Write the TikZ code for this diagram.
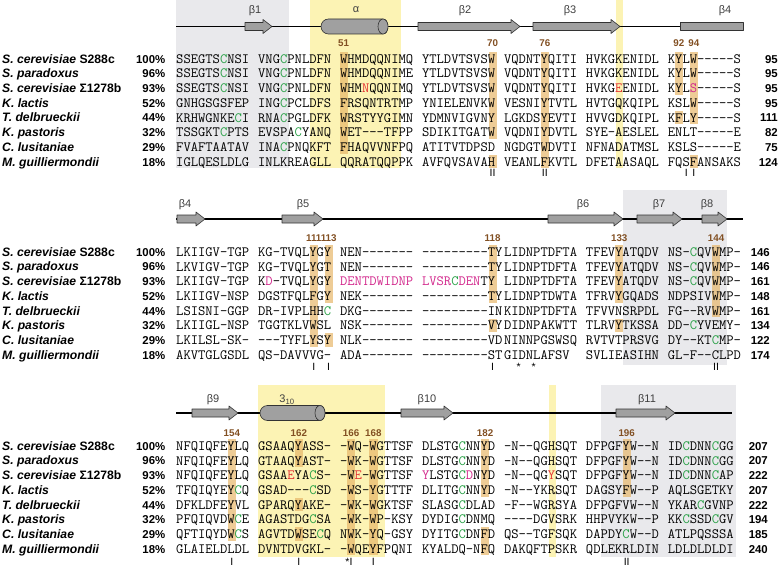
\documentclass[tikz,border=0pt]{standalone}
\usepackage{fontspec}
\setmainfont{Liberation Sans}
\setsansfont{Liberation Sans}
\usepackage{tikz}
\usetikzlibrary{calc}

\definecolor{bggray}{RGB}{233,233,236}
\definecolor{bgyellow}{RGB}{252,243,180}
\definecolor{hltan}{RGB}{231,182,105}
\definecolor{numbrown}{RGB}{130,80,35}
\definecolor{cysgreen}{RGB}{40,160,70}
\definecolor{mutred}{RGB}{228,50,50}
\definecolor{insmag}{RGB}{210,40,140}
\definecolor{ssgray}{RGB}{160,160,160}

% coloured residues
\newcommand{\gc}{\textcolor{cysgreen}{C}}
\newcommand{\rd}[1]{\textcolor{mutred}{#1}}
\newcommand{\mg}[1]{\textcolor{insmag}{#1}}

% left edge of residue column #1 (0..69) in one alignment line
\newcommand{\colx}[1]{(176+(#1+int(#1/10))*7.45)}

% strand arrow: x start, x tip, y
\newcommand{\strand}[3]{%
  \draw[sstruct] (#1,#3-4) -- (#2-9,#3-4) -- (#2-9,#3-7) -- (#2,#3)
    -- (#2-9,#3+7) -- (#2-9,#3+4) -- (#1,#3+4) -- cycle;}
% helix cylinder: x start, x of end cap, y
\newcommand{\helix}[3]{%
  \draw[sstruct] (#2,#3-7.5) -- (#1+7.5,#3-7.5) arc (270:90:7.5)
    -- (#2,#3+7.5) arc (90:-90:5 and 7.5) -- cycle;
  \draw[sstruct] (#2,#3) ellipse (5 and 7.5);}

\begin{document}
\begin{tikzpicture}[x=1pt, y=-1pt, font=\sffamily,
    seq/.style={anchor=base west, inner sep=0pt, font=\fontsize{14.19}{16}\selectfont\ttfamily},
    species/.style={anchor=base west, inner sep=0pt, font=\fontsize{12.2}{14}\selectfont\bfseries},
    pct/.style={anchor=base east, inner sep=0pt, font=\fontsize{11.4}{13}\selectfont\bfseries},
    resnum/.style={anchor=base, inner sep=0pt, text=numbrown, font=\fontsize{9.8}{11}\selectfont\bfseries},
    sslabel/.style={inner sep=0pt, text=black!75, font=\fontsize{11}{13}\selectfont},
    sitemark/.style={anchor=base, inner sep=0pt, font=\fontsize{10.5}{12}\selectfont},
    hlcell/.style={fill=hltan, fill opacity=0.7},
    backbone/.style={line width=1.2pt},
    sstruct/.style={fill=ssgray, draw=black!80, line width=0.6pt, line join=round}]

    \useasboundingbox (0,0) rectangle (779,567);

    % 1. Shaded regions
    \fill[bggray] (176,0) rectangle (289,168);
    \fill[bgyellow] (310,0) rectangle (401,168);
    \fill[bgyellow] ({\colx{54}},0) rectangle ({\colx{54}+7.45},168);
    \fill[bggray] (623,190) rectangle (727,365);
    \fill[bgyellow] (258,385) rectangle (385,557);
    \fill[bggray] (601,385) rectangle (736,557);
    \fill[bgyellow] ({\colx{46}},385) rectangle ({\colx{46}+7.45},557);

    % 2. Conserved columns (first row y / column / from row / to row)
    \foreach \ya/\i/\ra/\rb in {59/20/1/7, 59/39/1/6, 59/39/8/8, 59/45/1/8,
        59/61/1/3, 59/61/5/5, 59/63/1/5, 59/63/8/8,
        252/17/1/7, 252/19/1/4, 252/19/7/7, 252/39/1/4, 252/39/6/6,
        252/54/1/4, 252/54/6/6, 252/66/1/5,
        446/7/1/7, 446/15/1/2, 446/15/5/5, 446/15/7/7, 446/21/1/8,
        446/24/1/8, 446/38/1/4, 446/38/7/8, 446/55/1/4}
      \fill[hlcell] ({\colx{\i}-0.4},{\ya+(\ra-1)*14.7-7}) rectangle ({\colx{\i}+7.85},{\ya+(\rb-1)*14.7+6.5});

    % 3. Secondary structure, first line
    \draw[backbone] (176,26.5) -- (743,26.5);
    \strand{245}{272}{26.5}
    \helix{321}{383}{26.5}
    \strand{418}{520}{26.5}
    \strand{533}{620}{26.5}
    \draw[sstruct] (680,22.5) rectangle (743,30.5);
    \node[sslabel] (b1) at (255,11) {β1};
    \node[sslabel] (alpha) at (356,10) {α};
    \node[sslabel] (b2) at (465,11) {β2};
    \node[sslabel] (b3) at (570,11) {β3};
    \node[sslabel] (b4) at (725,11) {β4};

    % second line
    \draw[backbone] (176,219) -- (743,219);
    \strand{177}{205}{219}
    \strand{282}{323}{219}
    \strand{548}{623}{219}
    \strand{637}{682}{219}
    \strand{702}{727}{219}
    \node[sslabel] (b4b) at (185,205) {β4};
    \node[sslabel] (b5) at (303,205) {β5};
    \node[sslabel] (b6) at (583,205) {β6};
    \node[sslabel] (b7) at (659,205) {β7};
    \node[sslabel] (b8) at (707,205) {β8};

    % third line
    \draw[backbone] (176,413) -- (732,413);
    \strand{192}{238}{413}
    \helix{260}{320}{413}
    \strand{401}{453}{413}
    \strand{616}{675}{413}
    \node[sslabel] (b9) at (213,400) {β9};
    \node[sslabel] (h310) at (287,400) {3\textsubscript{10}};
    \node[sslabel] (b10) at (427,400) {β10};
    \node[sslabel] (b11) at (647,400) {β11};

    % 4. Residue numbers above the columns
    \foreach \yb/\i/\t in {46.5/20/51, 46.5/39/70, 46.5/45/76, 46.5/61/92, 46.5/63/94,
        241.5/17/111, 241.5/19/113, 241.5/39/118, 241.5/54/133, 241.5/66/144,
        436.5/7/154, 436.5/15/162, 436.5/21/166, 436.5/24/168, 436.5/38/182, 436.5/55/196}
      \node[resnum] (r\t) at ({\colx{\i}+3.7},\yb) {\t};

    % 5. Species and identity
    \foreach \ya [count=\b] in {59,252,446}
      \foreach \sp/\pc [count=\r] in {\textit{S. cerevisiae} S288c/100\%,
          \textit{S. paradoxus}/96\%, \textit{S. cerevisiae} Σ1278b/93\%,
          \textit{K. lactis}/52\%, \textit{T. delbrueckii}/44\%,
          \textit{K. pastoris}/32\%, \textit{C. lusitaniae}/29\%,
          \textit{M. guilliermondii}/18\%}
      {
        \node[species] (sp\b-\r) at (2,{\ya+(\r-1)*14.7+4.2}) {\sp};
        \node[pct] (pc\b-\r) at (165.5,{\ya+(\r-1)*14.7+4.2}) {\pc};
      }

    % 6. Sequences, first line
    \foreach \r/\sa/\sb/\sc/\sd/\se/\sf/\sg/\n in {
        1/SSEGTS\gc NSI/VNG\gc PNLDFN/WHMDQQNIMQ/YTLDVTSVSW/VQDNTYQITI/HVKGKENIDL/KYLW-----S/95,
        2/SSEGTS\gc NSI/VNG\gc PNLDFN/WHMDQQNIME/YTLDVTSVSW/VQDNTYQITI/HVKGKENIDL/KYLW-----S/95,
        3/SSEGTS\gc NSI/VNG\gc PNLDFN/WHM\rd{N}QQNIMQ/YTLDVTSVSW/VQDNTYQITI/HVKG\rd{E}ENIDL/KYL\mg{S}-----S/95,
        4/GNHGSGSFEP/ING\gc PCLDFS/FRSQNTRTMP/YNIELENVKW/VESNIYTVTL/HVTGQKQIPL/KSLW-----S/95,
        5/KRHWGNKE\gc I/RNA\gc PGLDFK/WRSTYYGIMN/YDMNVIGVNY/LGKDSYEVTI/HVVGDKQIPL/KFLY-----S/111,
        6/TSSGKT\gc PTS/EVSPA\gc YANQ/WET---TFPP/SDIKITGATW/VQDNIYDVTL/SYE-AESLEL/ENLT-----E/82,
        7/FVAFTAATAV/INA\gc PNQKFT/FHAQVVNFPQ/ATITVTDPSD/NGDGTWDVTI/NFNADATMSL/KSLS-----E/75,
        8/IGLQESLDLG/INLKREAGLL/QQRATQQPPK/AVFQVSAVAH/VEANLFKVTL/DFETAASAQL/FQSFANSAKS/124}
    {
      \foreach \s [count=\g from 0] in {\sa,\sb,\sc,\sd,\se,\sf,\sg}
        \node[seq] (a\r-\g) at ({176+\g*81.95},{59+(\r-1)*14.7+4.3}) {\s};
      \node[pct] (a\r-n) at (778,{59+(\r-1)*14.7+4.2}) {\n};
    }

    % second line
    \foreach \r/\sa/\sb/\sc/\sd/\se/\sf/\sg/\n in {
        1/LKIIGV-TGP/KG-TVQLYGY/NEN-------/---------TY/LIDNPTDFTA/TFEVYATQDV/NS-\gc QVWMP-/146,
        2/LKVIGV-TGP/KG-TVQLYGT/NEN-------/---------TY/LIDNPTDFTA/TFEVYATQDV/NS-\gc QVWMP-/146,
        3/LKIIGV-TGP/K\mg{D}-TVQLYGY/\mg{DENTDWIDNP}/\mg{LVSR}\gc\mg{DEN}TY/LIDNPTDFTA/TFEVYATQDV/NS-\gc QVWMP-/161,
        4/LKIIGV-NSP/DGSTFQLFGY/NEK-------/---------TY/LIDNPTDWTA/TFRVYGQADS/NDPSIVWMP-/148,
        5/LSISNI-GGP/DR-IVPLHH\gc/DKG-------/---------IN/KIDNPTDFTA/TFVVNSRPDL/FG--RVWMP-/161,
        6/LKIIGL-NSP/TGGTKLVWSL/NSK-------/---------VY/DIDNPAKWTT/TLRVYTKSSA/DD-\gc YVEMY-/134,
        7/LKILSL-SK-/---TYFLYSY/NLK-------/---------VD/NINNPGSWSQ/RVTVTPRSVG/DY--KT\gc MP-/122,
        8/AKVTGLGSDL/QS-DAVVVG-/ADA-------/---------ST/GIDNLAFSV/SVLIEASIHN/GL-F--CLPD/174}
    {
      \foreach \s [count=\g from 0] in {\sa,\sb,\sc,\sd,\se,\sf,\sg}
        \node[seq] (c\r-\g) at ({176+\g*81.95},{252+(\r-1)*14.7+4.3}) {\s};
      \node[pct] (c\r-n) at (770,{252+(\r-1)*14.7+4.2}) {\n};
    }

    % third line
    \foreach \r/\sa/\sb/\sc/\sd/\se/\sf/\sg/\n in {
        1/NFQIQFEYLQ/GSAAQYASS-/-WQ-WGTTSF/DLSTG\gc NNYD/-N--QGHSQT/DFPGFYW--N/ID\gc DNN\gc GG/207,
        2/NFQIQFEYLQ/GTAAQYAST-/-WK-WGTTSF/DLSTG\gc NNYD/-N--QGHSQT/DFPGFYW--N/ID\gc DNN\gc GG/207,
        3/NFQIQFEYLQ/GSAA\rd{E}YA\gc S-/-W\rd{E}-WGTTSF/\mg{Y}LSTG\gc\mg{D}NYD/-N--QG\rd{Y}SQT/DFPGFYW--N/ID\gc DNN\gc AP/222,
        4/TFQIQYEY\gc Q/GSAD---\gc SD/-WS-YGTTTF/DLITG\gc NNYD/-N--YKRSQT/DAGSYFW--P/AQLSGETKY/207,
        5/DFKLDFEYVL/GPARQYAKE-/-WK-WGKTSF/SLASG\gc DLAD/-F--WGRSYA/DFPGFVW--N/YKAR\gc GVNP/222,
        6/PFQIQVDW\gc E/AGASTDG\gc SA/-WK-WP-KSY/DYDIG\gc DNMQ/----DGVSRK/HHPVYKW--P/KK\gc SSD\gc GV/194,
        7/QFTIQYDW\gc S/AGVTDWSE\gc Q/NWK-YQ-GSY/DYITG\gc DNFD/QS--TGFSQK/DAPDY\gc W--D/ATLPQSSSA/185,
        8/GLAIELDLDL/DVNTDVGKL-/-WQEYFPQNI/KYALDQ-NFQ/DAKQFTPSKR/QDLEKRLDIN/LDLDLDLDI/240}
    {
      \foreach \s [count=\g from 0] in {\sa,\sb,\sc,\sd,\se,\sf,\sg}
        \node[seq] (e\r-\g) at ({176+\g*81.95},{446+(\r-1)*14.7+4.3}) {\s};
      \node[pct] (e\r-n) at (768,{446+(\r-1)*14.7+4.2}) {\n};
    }

    % 7. Marks under the alignment
    \foreach \c/\t [count=\k] in {39/II, 45/II, 62/I, 63/I}
      \node[sitemark] (mka\k) at ({\colx{\c}+3.7},176.5) {\t};
    \foreach \c/\t [count=\k] in {17/I, 19/I, 39/I, 41.5/*, 43.5/*, 66/II}
      \node[sitemark] (mkb\k) at ({\colx{\c}+3.7},370.5) {\t};
    \foreach \c/\t [count=\k] in {7/I, 15/I, 20.5/*, 21/I, 24/I, 55/II}
      \node[sitemark] (mkc\k) at ({\colx{\c}+3.7},565.5) {\t};

\end{tikzpicture}
\end{document}
